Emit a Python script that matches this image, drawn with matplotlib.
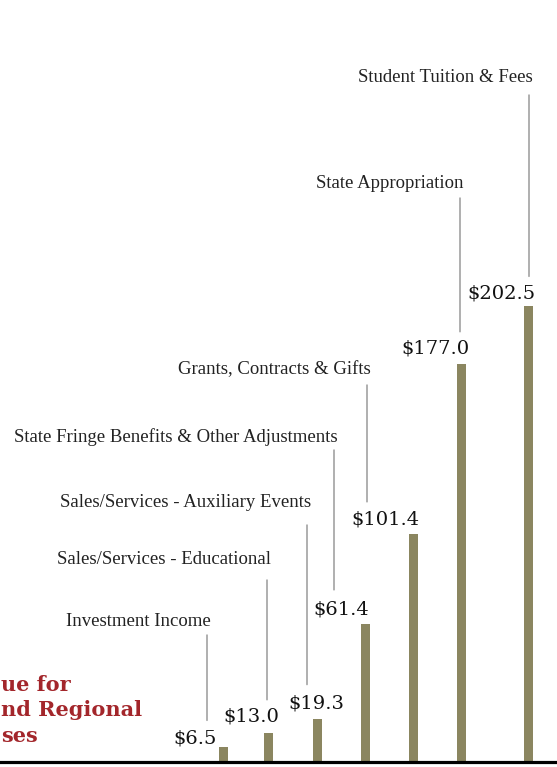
import matplotlib
matplotlib.use('Agg')
import matplotlib.pyplot as plt

# data (millions)
cats = ['Investment Income', 'Sales/Services - Educational',
        'Sales/Services - Auxiliary Events',
        'State Fringe Benefits & Other Adjustments',
        'Grants, Contracts & Gifts', 'State Appropriation',
        'Student Tuition & Fees']
vals = [6.5, 13.0, 19.3, 61.4, 101.4, 177.0, 202.5]
val_labels = ['$6.5', '$13.0', '$19.3', '$61.4', '$101.4', '$177.0', '$202.5']
title_parts = ['ue for', 'nd Regional', 'ses']

# layout (pixels, measured from the top of the picture)
bar_x = [223, 268.5, 317, 365, 413, 461.5, 528.5]
lead_x = [207, 267, 307, 334, 367, 460, 529]
cat_y = [621, 559, 502, 437, 370, 183, 77]
lead_top = [635, 580, 525, 450, 385, 198, 95]
lead_gap = [27, 33, 34, 34, 32, 32, 30]
lab_dx = [-28, -17, -1, -24, -28, -26, -27]
lab_dy = [9, 16, 15, 14, 14, 15, 13]

W, H = 557, 767
base = 762
s = 2.25  # px per million

fig = plt.figure(figsize=(W / 100, H / 100), dpi=100)
ax = fig.add_axes([0, 0, 1, 1])
ax.set_xlim(0, W)
ax.set_ylim(-(H - base) / s, base / s)
ax.axis('off')

def py(p):
    return (base - p) / s

olive = '#8b8660'
grey = '#9a9a9a'
ax.bar(bar_x, vals, width=9, color=olive, zorder=2)
ax.axhline(0, color='black', lw=2.3, zorder=3)

for i in range(len(vals)):
    ax.annotate(val_labels[i], xy=(bar_x[i], vals[i]), xytext=(lab_dx[i] * 0.72, lab_dy[i] * 0.72),
                textcoords='offset points', ha='center', va='center',
                fontsize=14, family='DejaVu Serif', color='#111111')
    ax.text(lead_x[i] + 4, py(cat_y[i]), cats[i], ha='right', va='center',
            fontsize=13.5, family='Liberation Serif', color='#222222')
    ax.annotate('', xy=(lead_x[i], vals[i]), xytext=(lead_x[i], py(lead_top[i])),
                arrowprops=dict(arrowstyle='-', color=grey, lw=1.1,
                                shrinkA=0, shrinkB=lead_gap[i] * 0.72))

title_y = [685, 710, 736]
for t, yy in zip(title_parts, title_y):
    ax.text(1, py(yy), t, ha='left', va='center', fontsize=15,
            family='DejaVu Serif', fontweight='bold', color='#a3262b')

plt.savefig('out.png', dpi=100)
